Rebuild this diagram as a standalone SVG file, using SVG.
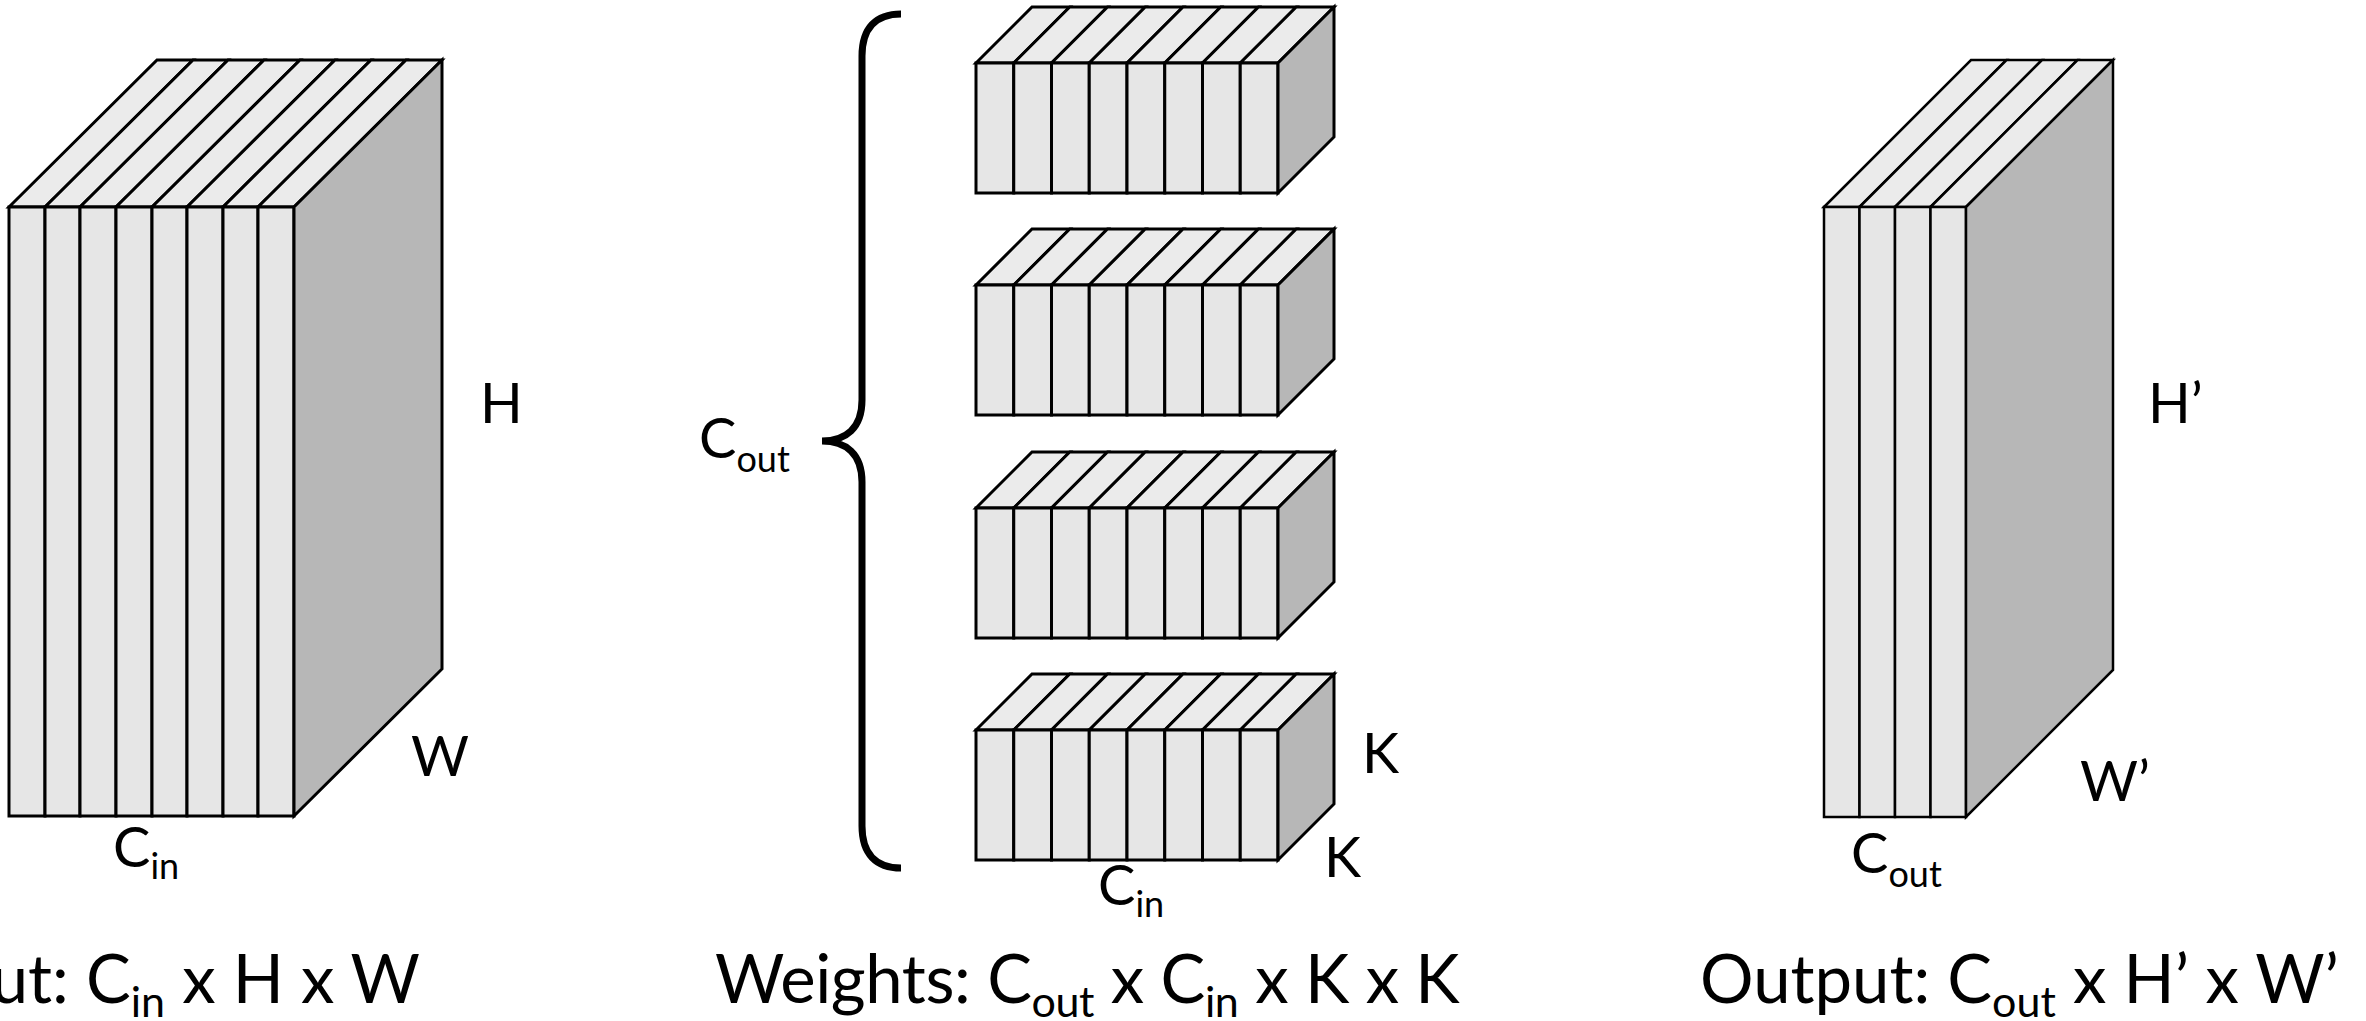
<svg xmlns="http://www.w3.org/2000/svg" xmlns:xlink="http://www.w3.org/1999/xlink" width="2366" height="1021" viewBox="0 0 2366 1021">
<style>
.front{fill:#e6e6e6;stroke:#000;stroke-width:3;stroke-linejoin:miter}
.top{fill:#ebebeb;stroke:#000;stroke-width:3;stroke-linejoin:miter}
.side{fill:#b7b7b7;stroke:#000;stroke-width:3;stroke-linejoin:miter}
.thin .front,.thin .top,.thin .side{stroke-width:2.5}
.brace{fill:none;stroke:#000;stroke-width:7;stroke-linecap:butt}
text{font-family:Lato,"Open Sans",sans-serif;fill:#000}
.big{font-size:67px}
.bigsub{font-size:43px}
.lbl{font-size:56px}
.lblsub{font-size:36px}
</style>
<defs>
<g id="kernel">
<polygon class="top" points="0,0 56,-56 93.75,-56 37.75,0"/>
<polygon class="top" points="37.75,0 93.75,-56 131.5,-56 75.5,0"/>
<polygon class="top" points="75.5,0 131.5,-56 169.25,-56 113.25,0"/>
<polygon class="top" points="113.25,0 169.25,-56 207,-56 151,0"/>
<polygon class="top" points="151,0 207,-56 244.75,-56 188.75,0"/>
<polygon class="top" points="188.75,0 244.75,-56 282.5,-56 226.5,0"/>
<polygon class="top" points="226.5,0 282.5,-56 320.25,-56 264.25,0"/>
<polygon class="top" points="264.25,0 320.25,-56 358,-56 302,0"/>
<rect class="front" x="0" y="0" width="37.75" height="130"/>
<rect class="front" x="37.75" y="0" width="37.75" height="130"/>
<rect class="front" x="75.5" y="0" width="37.75" height="130"/>
<rect class="front" x="113.25" y="0" width="37.75" height="130"/>
<rect class="front" x="151" y="0" width="37.75" height="130"/>
<rect class="front" x="188.75" y="0" width="37.75" height="130"/>
<rect class="front" x="226.5" y="0" width="37.75" height="130"/>
<rect class="front" x="264.25" y="0" width="37.75" height="130"/>
<polygon class="side" points="302,0 358,-56 358,74 302,130"/>
</g>
</defs>

<g id="input-tensor">
<polygon class="top" points="9,207 157,60 193,60 45,207"/>
<polygon class="top" points="45,207 193,60 228,60 80,207"/>
<polygon class="top" points="80,207 228,60 264,60 116,207"/>
<polygon class="top" points="116,207 264,60 300,60 152,207"/>
<polygon class="top" points="152,207 300,60 335,60 187,207"/>
<polygon class="top" points="187,207 335,60 371,60 223,207"/>
<polygon class="top" points="223,207 371,60 406,60 258,207"/>
<polygon class="top" points="258,207 406,60 442,60 294,207"/>
<rect class="front" x="9" y="207" width="36" height="609"/>
<rect class="front" x="45" y="207" width="35" height="609"/>
<rect class="front" x="80" y="207" width="36" height="609"/>
<rect class="front" x="116" y="207" width="36" height="609"/>
<rect class="front" x="152" y="207" width="35" height="609"/>
<rect class="front" x="187" y="207" width="36" height="609"/>
<rect class="front" x="223" y="207" width="35" height="609"/>
<rect class="front" x="258" y="207" width="36" height="609"/>
<polygon class="side" points="294,207 442,60 442,669 294,816"/>
<text class="lbl" x="480" y="423">H</text>
<text class="lbl" x="411" y="776">W</text>
<text class="lbl" x="113" y="867">C<tspan class="lblsub" dy="12">in</tspan></text>
<text class="big" x="420" y="1003" text-anchor="end">Input: C<tspan class="bigsub" dy="14">in</tspan><tspan dy="-14"> x H x W</tspan></text>
</g>

<g id="weights">
<g id="brace"><path class="brace" d="M901,14 C876,14 862,28 862,56 L862,400 C862,428 846,441 822,441 C846,441 862,454 862,482 L862,826 C862,854 876,868 901,868"/></g>
<g id="kernel-1" transform="translate(976,63)"><use xlink:href="#kernel" href="#kernel"/></g>
<g id="kernel-2" transform="translate(976,285)"><use xlink:href="#kernel" href="#kernel"/></g>
<g id="kernel-3" transform="translate(976,508)"><use xlink:href="#kernel" href="#kernel"/></g>
<g id="kernel-4" transform="translate(976,730)"><use xlink:href="#kernel" href="#kernel"/></g>
<text class="lbl" x="699" y="458">C<tspan class="lblsub" dy="14">out</tspan></text>
<text class="lbl" x="1098" y="905">C<tspan class="lblsub" dy="12">in</tspan></text>
<text class="lbl" x="1362" y="773">K</text>
<text class="lbl" x="1324" y="877">K</text>
<text class="big" x="715" y="1003" letter-spacing="-0.4">Weights: C<tspan class="bigsub" dy="14">out</tspan><tspan dy="-14"> x C</tspan><tspan class="bigsub" dy="14">in</tspan><tspan dy="-14"> x K x K</tspan></text>
</g>

<g id="output-tensor" class="thin">
<polygon class="top" points="1824,207 1971,60 2006.5,60 1859.5,207"/>
<polygon class="top" points="1859.5,207 2006.5,60 2042,60 1895,207"/>
<polygon class="top" points="1895,207 2042,60 2077.5,60 1930.5,207"/>
<polygon class="top" points="1930.5,207 2077.5,60 2113,60 1966,207"/>
<rect class="front" x="1824" y="207" width="35.5" height="610"/>
<rect class="front" x="1859.5" y="207" width="35.5" height="610"/>
<rect class="front" x="1895" y="207" width="35.5" height="610"/>
<rect class="front" x="1930.5" y="207" width="35.5" height="610"/>
<polygon class="side" points="1966,207 2113,60 2113,670 1966,817"/>
<text class="lbl" x="2148" y="423">H’</text>
<text class="lbl" x="2080" y="801">W’</text>
<text class="lbl" x="1851" y="873">C<tspan class="lblsub" dy="14">out</tspan></text>
<text class="big" x="1700" y="1003">Output: C<tspan class="bigsub" dy="14">out</tspan><tspan dy="-14"> x H’ x W’</tspan></text>
</g>
</svg>
